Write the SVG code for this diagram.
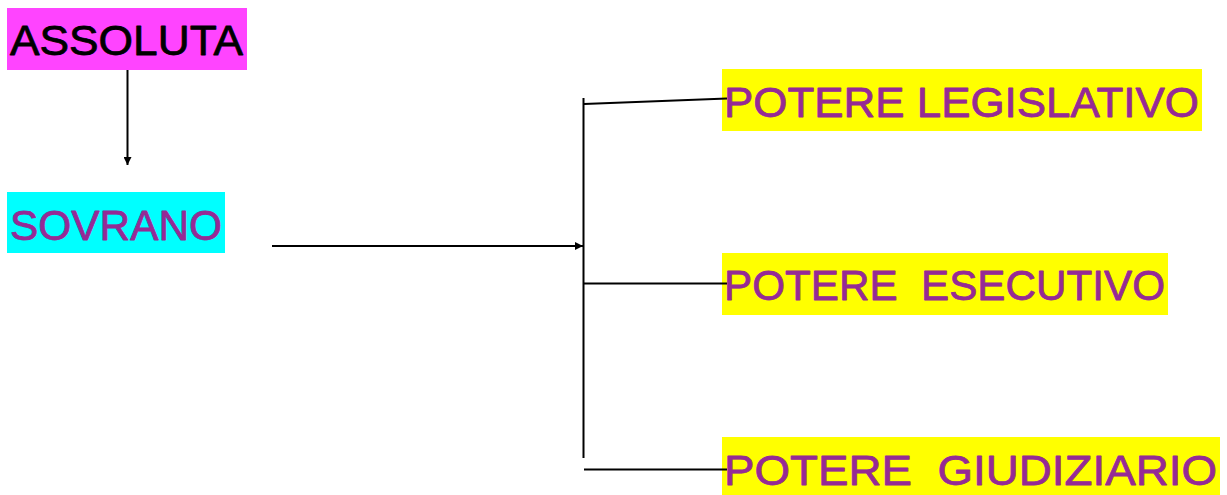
<svg xmlns="http://www.w3.org/2000/svg" width="1227" height="495" viewBox="0 0 1227 495">
<style>
.lbl{font-family:"Liberation Sans","DejaVu Sans",sans-serif;font-size:43px;white-space:pre;stroke-width:0.8px;stroke-linejoin:round}
.purple{fill:#952a95;stroke:#952a95}
.blk{fill:#000;stroke:#000}
.conn{stroke:#000;stroke-width:2;fill:none}
</style>
<defs>
<marker id="ah" viewBox="0 0 10 10" refX="10" refY="5" markerWidth="9" markerHeight="8" markerUnits="userSpaceOnUse" orient="auto">
<path d="M0,0 L10,5 L0,10 z" fill="#000"/>
</marker>
</defs>
<rect width="1227" height="495" fill="#fff"/>
<g id="assoluta">
<rect x="7" y="8" width="240" height="62" fill="#ff44ff"/>
<text class="lbl blk" x="10" y="55" textLength="233" lengthAdjust="spacingAndGlyphs">ASSOLUTA</text>
</g>
<g id="sovrano">
<rect x="7" y="192" width="218" height="61" fill="#00ffff"/>
<text class="lbl purple" x="10" y="240" textLength="212" lengthAdjust="spacingAndGlyphs">SOVRANO</text>
</g>
<g id="legislativo">
<rect x="722" y="69" width="480" height="62" fill="#ffff00"/>
<text class="lbl purple" x="724" y="117" textLength="475" lengthAdjust="spacingAndGlyphs">POTERE LEGISLATIVO</text>
</g>
<g id="esecutivo">
<rect x="722" y="253" width="446" height="62" fill="#ffff00"/>
<text class="lbl purple" x="724" y="300" textLength="441" lengthAdjust="spacingAndGlyphs">POTERE  ESECUTIVO</text>
</g>
<g id="giudiziario">
<rect x="722" y="437" width="498" height="58" fill="#ffff00"/>
<text class="lbl purple" x="724" y="485" textLength="493" lengthAdjust="spacingAndGlyphs">POTERE  GIUDIZIARIO</text>
</g>
<g id="connectors">
<line class="conn" x1="127.5" y1="70" x2="127.5" y2="165" marker-end="url(#ah)"/>
<line class="conn" x1="272" y1="246" x2="583" y2="246" marker-end="url(#ah)"/>
<line class="conn" x1="583.5" y1="98" x2="583.5" y2="458"/>
<line class="conn" x1="584" y1="104" x2="727" y2="98.5"/>
<line class="conn" x1="584" y1="283.5" x2="727" y2="283.5"/>
<line class="conn" x1="584" y1="469.5" x2="727" y2="469.5"/>
</g>
</svg>
